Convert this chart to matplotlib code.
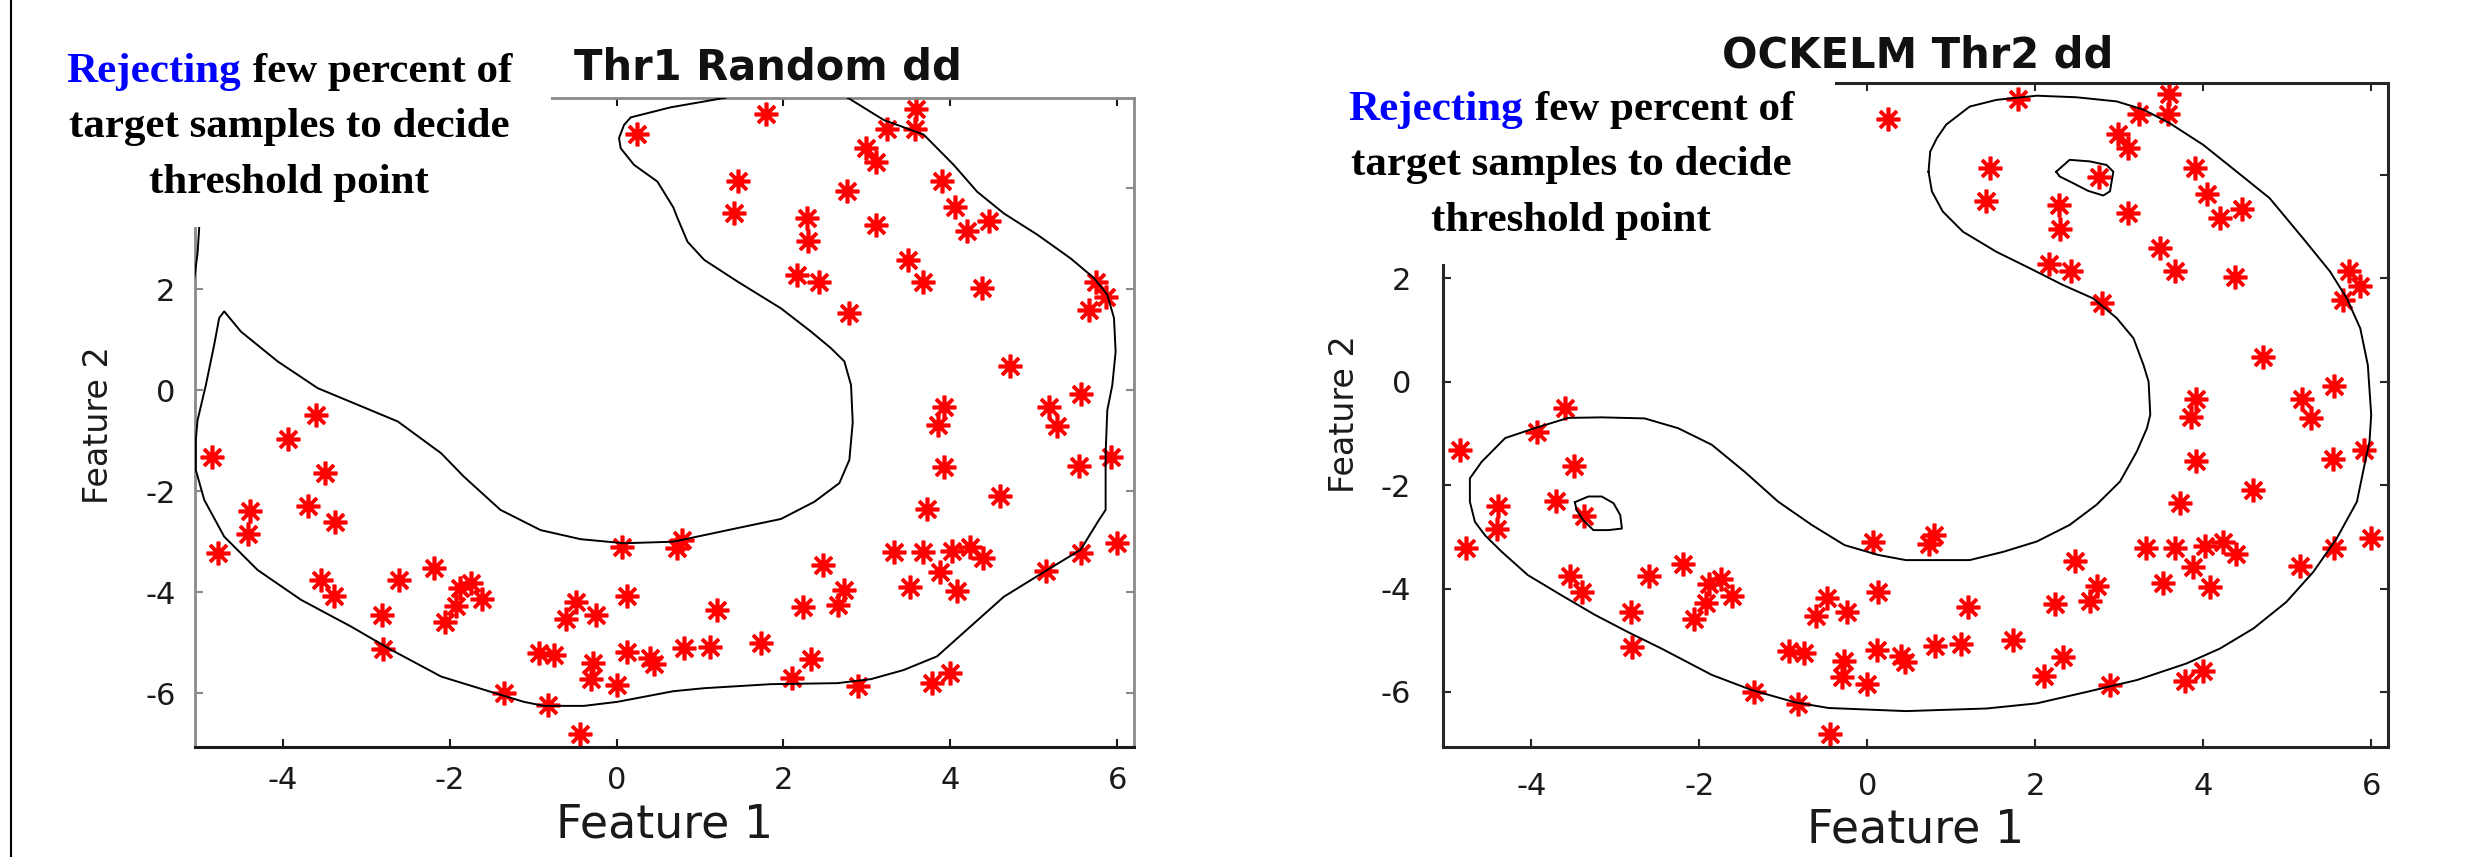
import numpy as np
import matplotlib.pyplot as plt
from matplotlib.patches import Rectangle
from matplotlib.lines import Line2D

plt.rcParams['axes.unicode_minus'] = False
plt.rcParams['font.family'] = ['DejaVu Sans']

W, H = 2470, 857

# banana data, same samples in both panels
feat1 = [0.25, -3.60, 1.79, 3.59, 3.24, 3.58, 2.99, 3.11, 1.46, 2.76, 3.90, 1.41,
         2.28, 3.11, 4.05, 2.30, 4.20, 4.46, 3.49, 2.16, 2.43, 3.67, 4.38, 2.79,
         5.74, 5.87, 5.66, 4.71, 5.56, 3.92, 5.18, 3.85, 5.28, 3.92, 5.54, 5.92,
         4.59, 3.72, 6.00, 0.79, 0.73, 3.32, 3.67, 4.02, 4.24, 4.39, 5.56, 5.15,
         2.47, 3.88, 3.52, 4.08, 2.73, 2.65, 2.23, 1.20, 0.81, 1.12, 1.73, 2.33,
         2.10, 2.89, 3.78, 4.00, -3.93, -4.85, -3.49, -4.39, -3.70, -3.37, -4.41,
         -4.78, -3.54, -3.39, -2.60, -2.19, -1.88, -1.74, -1.61, -1.92, -2.06,
         -2.81, -2.80, -0.48, -0.61, -0.24, 0.13, 0.07, -0.93, -0.75, -0.28,
         -0.30, 0.00, 0.12, 0.40, 0.45, -1.35, -0.82, -0.44]
feat2 = [5.07, -0.50, 5.47, 5.57, 5.17, 5.17, 4.79, 4.51, 4.14, 3.95, 4.14, 3.50,
         3.41, 3.26, 3.63, 2.96, 3.16, 3.34, 2.58, 2.28, 2.14, 2.15, 2.02, 1.52,
         2.14, 1.85, 1.58, 0.47, -0.08, -0.34, -0.34, -0.69, -0.71, -1.53, -1.50,
         -1.33, -2.09, -2.35, -3.02, -2.96, -3.13, -3.21, -3.21, -3.18, -3.10,
         -3.33, -3.22, -3.57, -3.46, -3.59, -3.89, -3.97, -3.95, -4.25, -4.30,
         -4.35, -5.11, -5.08, -5.00, -5.33, -5.70, -5.86, -5.79, -5.60, -0.97,
         -1.33, -1.63, -2.40, -2.30, -2.60, -2.85, -3.22, -3.76, -4.07, -3.76,
         -3.52, -3.92, -3.82, -4.14, -4.28, -4.59, -4.45, -5.13, -4.19, -4.53,
         -4.45, -4.07, -3.10, -5.20, -5.24, -5.41, -5.72, -5.84, -5.18, -5.31,
         -5.42, -6.00, -6.23, -6.81]

# Thr1 Random dd boundary
rand_x = [2.77, 3.20, 3.68, 4.04, 4.32, 4.64, 5.04, 5.44, 5.72, 5.88, 5.96, 5.98,
          5.94, 5.88, 5.86, 5.86, 5.78, 5.56, 5.16, 4.64, 4.24, 3.84, 3.44, 3.05,
          2.65, 1.85, 1.05, 0.68, 0.01, -0.39, -0.87, -1.11, -1.51, -2.10, -2.70,
          -3.18, -3.78, -4.30, -4.70, -4.94, -5.04, -5.04, -5.02, -4.92, -4.82,
          -4.76, -4.70, -4.50, -4.06, -3.58, -3.10, -2.62, -2.10, -1.83, -1.39,
          -0.91, -0.43, 0.09, 0.68, 1.45, 1.97, 2.37, 2.67, 2.79, 2.83, 2.81, 2.73,
          2.57, 2.33, 1.97, 1.45, 1.05, 0.85, 0.73, 0.68, 0.49, 0.21, 0.05, 0.03,
          0.09, 0.17, 0.65, 1.31, 1.60, 2.50, 2.77]
rand_y = [5.79, 5.35, 5.06, 4.46, 3.93, 3.50, 3.08, 2.61, 2.22, 1.89, 1.43, 0.76,
          0.10, -0.40, -1.25, -2.37, -2.57, -3.16, -3.56, -4.09, -4.68, -5.27,
          -5.54, -5.72, -5.80, -5.82, -5.90, -5.96, -6.17, -6.25, -6.25, -6.17,
          -5.97, -5.67, -5.14, -4.68, -4.15, -3.56, -2.90, -2.17, -1.58, -0.98,
          -0.60, 0.10, 0.90, 1.43, 1.56, 1.16, 0.57, 0.04, -0.29, -0.62, -1.25,
          -1.71, -2.37, -2.77, -2.95, -3.03, -3.00, -2.73, -2.55, -2.21, -1.84,
          -1.38, -0.64, 0.10, 0.57, 0.83, 1.16, 1.62, 2.15, 2.58, 2.94, 3.41, 3.62,
          4.13, 4.46, 4.79, 4.99, 5.25, 5.40, 5.60, 5.79, 6.10, 6.10, 5.79]
rand_edge_x = [-5.20, -5.06, -5.02, -5.00, -5.02, -5.20]
rand_edge_y = [1.90, 2.20, 2.70, 3.20, 3.60, 3.90]

# OCKELM Thr2 dd boundary
ock_x = [0.73, 0.75, 0.83, 0.94, 1.22, 1.54, 2.02, 2.49, 2.97, 3.29, 3.60, 4.00,
         4.40, 4.79, 5.19, 5.51, 5.71, 5.87, 5.96, 6.00, 5.98, 5.92, 5.83, 5.59,
         5.31, 4.99, 4.60, 4.20, 3.80, 3.21, 2.61, 2.02, 1.42, 0.46, -0.46, -0.86,
         -1.38, -1.85, -2.45, -2.85, -3.24, -3.64, -4.04, -4.35, -4.55, -4.67,
         -4.73, -4.73, -4.59, -4.31, -3.96, -3.56, -3.16, -2.65, -2.25, -1.85,
         -1.46, -1.06, -0.66, -0.27, 0.13, 0.46, 1.22, 1.62, 2.02, 2.41, 2.73,
         3.01, 3.21, 3.33, 3.37, 3.35, 3.29, 3.17, 2.97, 2.69, 2.33, 1.94, 1.54,
         1.14, 0.90, 0.77, 0.73]
ock_y = [4.06, 4.45, 4.71, 4.97, 5.32, 5.45, 5.53, 5.50, 5.42, 5.26, 5.00, 4.58,
         4.06, 3.55, 2.77, 2.13, 1.61, 1.03, 0.32, -0.64, -1.16, -1.61, -2.32,
         -3.03, -3.68, -4.26, -4.77, -5.16, -5.45, -5.77, -6.00, -6.22, -6.32,
         -6.37, -6.31, -6.20, -5.96, -5.67, -5.16, -4.84, -4.51, -4.13, -3.74,
         -3.29, -2.97, -2.71, -2.32, -1.87, -1.55, -1.09, -0.90, -0.70, -0.69,
         -0.71, -0.90, -1.22, -1.74, -2.32, -2.77, -3.16, -3.35, -3.45, -3.45,
         -3.29, -3.09, -2.77, -2.38, -1.93, -1.35, -0.90, -0.64, 0.00, 0.32, 0.84,
         1.23, 1.61, 1.87, 2.19, 2.51, 2.90, 3.29, 3.68, 4.06]
loop1_x = [2.25, 2.41, 2.65, 2.85, 2.93, 2.89, 2.81, 2.63, 2.45, 2.29, 2.25]
loop1_y = [4.06, 4.29, 4.26, 4.19, 4.06, 3.68, 3.60, 3.69, 3.84, 3.97, 4.06]
loop2_x = [-3.48, -3.32, -3.16, -3.02, -2.94, -2.92, -3.08, -3.26, -3.38, -3.46, -3.48]
loop2_y = [-2.33, -2.22, -2.22, -2.35, -2.58, -2.84, -2.87, -2.87, -2.68, -2.48, -2.33]

xticks = [-4, -2, 0, 2, 4, 6]
yticks = [-6, -4, -2, 0, 2, 4]
ytick_labels = ['-6', '-4', '-2', '0', '2', '']  # the 4 label sits under the note box

note_blue = 'Rejecting'
note_lines = [' few percent of', 'target samples to decide', 'threshold point']


def fx(px):
    return px / W


def fy(py):
    return 1 - py / H


fig = plt.figure(figsize=(W / 100, H / 100), dpi=100)

axL = fig.add_axes([fx(195), fy(747.3), (1134 - 195) / W, (747.3 - 97.7) / H])
axR = fig.add_axes([fx(1443), fy(747.3), (2388 - 1443) / W, (747.3 - 83.3) / H])

for ax in (axL, axR):
    ax.plot(feat1, feat2, linestyle='none', marker=(8, 2, 0), ms=17, mew=2.6,
            color='#ff0000', zorder=2)
    ax.set_xlim(-5.05, 6.2)
    ax.set_xticks(xticks)
    ax.set_yticks(yticks)
    ax.set_yticklabels(ytick_labels)
    ax.tick_params(direction='in', top=True, right=True, length=6, width=1.5,
                   labelsize=22, labelcolor='#1a1a1a')
    ax.set_xlabel('Feature 1', fontsize=33, color='#1a1a1a')
    ax.set_ylabel('Feature 2', fontsize=24, color='#1a1a1a')
    ax.xaxis.label.set_va('center')
    ax.yaxis.label.set_va('center')

axL.plot(rand_x, rand_y, color='k', lw=1.4, zorder=3)
axL.plot(rand_edge_x, rand_edge_y, color='k', lw=1.4, zorder=3)
axL.set_ylim(-7.07, 5.79)
for s in ['left', 'top', 'right']:
    axL.spines[s].set_color('#8a8a8a')
    axL.spines[s].set_linewidth(2)
axL.spines['bottom'].set_color('#1a1a1a')
axL.spines['bottom'].set_linewidth(2.2)
axL.tick_params(axis='y', color='#8a8a8a', pad=14)
axL.tick_params(axis='x', color='#1a1a1a', pad=13.5)
axL.xaxis.set_label_coords(0.5, -0.12)
axL.yaxis.set_label_coords(-0.103, 0.496)

axR.plot(ock_x, ock_y, color='k', lw=1.4, zorder=3)
axR.plot(loop1_x, loop1_y, color='k', lw=1.4, zorder=3)
axR.plot(loop2_x, loop2_y, color='k', lw=1.4, zorder=3)
axR.set_ylim(-7.07, 5.77)
for s in axR.spines.values():
    s.set_color('#262626')
    s.set_linewidth(2.2)
axR.tick_params(color='#262626')
axR.tick_params(axis='y', pad=23)
axR.tick_params(axis='x', pad=18)
axR.xaxis.set_label_coords(0.5, -0.1245)
axR.yaxis.set_label_coords(-0.104, 0.502)

# white boxes that sit over the top-left corner of each plot
fig.add_artist(Rectangle((fx(20), fy(227)), fx(551) - fx(20), 227 / H,
                         facecolor='white', edgecolor='none', zorder=5))
fig.add_artist(Rectangle((fx(1290), fy(264)), fx(1835) - fx(1290), 264 / H,
                         facecolor='white', edgecolor='none', zorder=5))

# titles
fig.text(fx(768), fy(80), 'Thr1 Random dd', ha='center', va='baseline',
         fontsize=30, fontweight='bold', color='#111111', zorder=7)
fig.text(fx(1918), fy(68), 'OCKELM Thr2 dd', ha='center', va='baseline',
         fontsize=30, fontweight='bold', color='#111111', zorder=7)

# notes
kw = dict(fontsize=31, fontweight='bold', family='Liberation Serif',
          va='baseline', zorder=7)
renderer = fig.canvas.get_renderer()


def draw_note(cx, ys):
    tb = fig.text(0, fy(ys[0]), note_blue, color='#0000ff', ha='left', **kw)
    tr = fig.text(0, fy(ys[0]), note_lines[0], color='black', ha='left', **kw)
    wb = tb.get_window_extent(renderer).width
    wr = tr.get_window_extent(renderer).width
    x0 = cx - (wb + wr) / 2
    tb.set_x(fx(x0))
    tr.set_x(fx(x0 + wb + 1))
    for line, y in zip(note_lines[1:], ys[1:]):
        fig.text(fx(cx), fy(y), line, color='black', ha='center', **kw)


draw_note(289, [82, 137.5, 193])
draw_note(1571, [120, 175.5, 231])

# border line on the far left
fig.add_artist(Line2D([fx(11), fx(11)], [0, 1], color='black', lw=1.5))

fig.savefig('out.png', dpi=100)
